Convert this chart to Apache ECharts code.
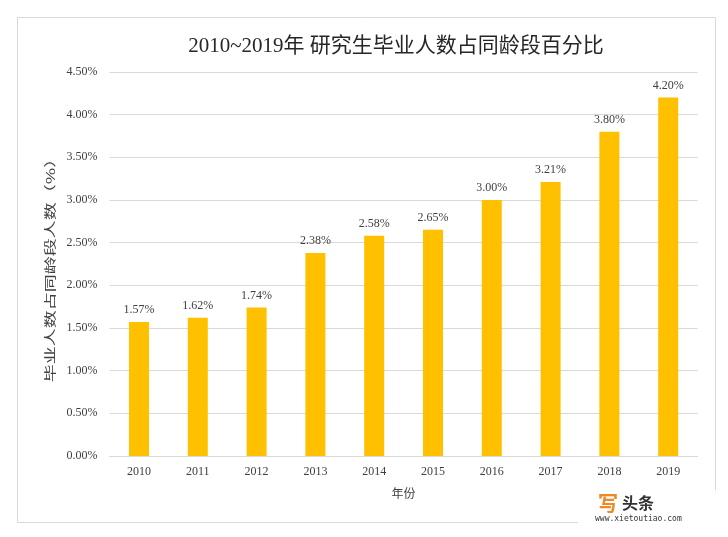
<!DOCTYPE html>
<html><head><meta charset="utf-8">
<script src="https://cdn.jsdelivr.net/npm/echarts@6/dist/echarts.min.js"></script>
<style>html,body{margin:0;padding:0;background:#fff}#c{width:728px;height:537px}</style>
</head><body><div id="c"></div>
<script>
const categories = ['2010','2011','2012','2013','2014','2015','2016','2017','2018','2019'];
const values = [1.57,1.62,1.74,2.38,2.58,2.65,3.00,3.21,3.80,4.20];
const titleText = '2010~2019年 研究生毕业人数占同龄段百分比';
const yName = '毕业人数占同龄段人数（%）';
const xName = '年份';

const chart = echarts.init(document.getElementById('c'));
const serif = '"Liberation Serif", "Noto Sans CJK SC", serif';
chart.setOption({
  animation: false,
  title: {text: titleText, left: 391, top: 31, textAlign: 'center',
    textStyle: {fontFamily: '"Liberation Serif", "Noto Sans CJK SC", serif', fontSize: 21, fontWeight: 'normal', color: '#262626'}},
  grid: {left: 109.6, right: 30.4, top: 72, bottom: 81},
  xAxis: {type: 'category', data: categories, name: xName, nameLocation: 'middle', nameGap: 31,
    nameTextStyle: {fontFamily: '"Noto Sans CJK SC"', fontSize: 12, color: '#404040'},
    axisLine: {lineStyle: {color: '#d9d9d9'}}, axisTick: {show: false},
    axisLabel: {fontFamily: serif, fontSize: 12, color: '#404040', margin: 10}},
  yAxis: {type: 'value', min: 0, max: 4.5, interval: 0.5,
    axisLine: {show: false}, axisTick: {show: false},
    splitLine: {lineStyle: {color: '#d9d9d9'}},
    axisLabel: {fontFamily: serif, fontSize: 12, color: '#404040', margin: 12,
      formatter: v => v.toFixed(2) + '%'}},
  series: [{type: 'bar', data: values, barWidth: 20, itemStyle: {color: '#FFC000'},
    label: {show: true, position: 'top', distance: 6, fontFamily: serif, fontSize: 12, color: '#404040',
      formatter: p => p.value.toFixed(2) + '%'}}],
  graphic: [
    {type: 'rect', left: 15, top: 15, shape: {width: 698, height: 505}, z: -10,
      style: {fill: 'none', stroke: '#d9d9d9', lineWidth: 1}},
    {type: 'text', x: 50, y: 266, rotation: Math.PI / 2, scaleX: 1.5, z: 5,
      style: {text: yName, fill: '#404040', font: '12px "Noto Sans CJK SC"', align: 'center', verticalAlign: 'middle'}},
    {type: 'rect', left: 578, top: 490, shape: {width: 150, height: 40}, z: 10, style: {fill: '#fff'}},
    {type: 'text', left: 598, top: 493, z: 11, style: {text: '写', fill: '#F08A24', font: 'bold 20px "Noto Sans CJK SC"'}},
    {type: 'text', left: 622, top: 495, z: 11, style: {text: '头条', fill: '#333', font: 'bold 16px "Noto Sans CJK SC"'}},
    {type: 'text', left: 595, top: 515, z: 11, style: {text: 'www.xietoutiao.com', fill: '#333', font: '8px "DejaVu Sans Mono"'}}
  ]
});
</script></body></html>
